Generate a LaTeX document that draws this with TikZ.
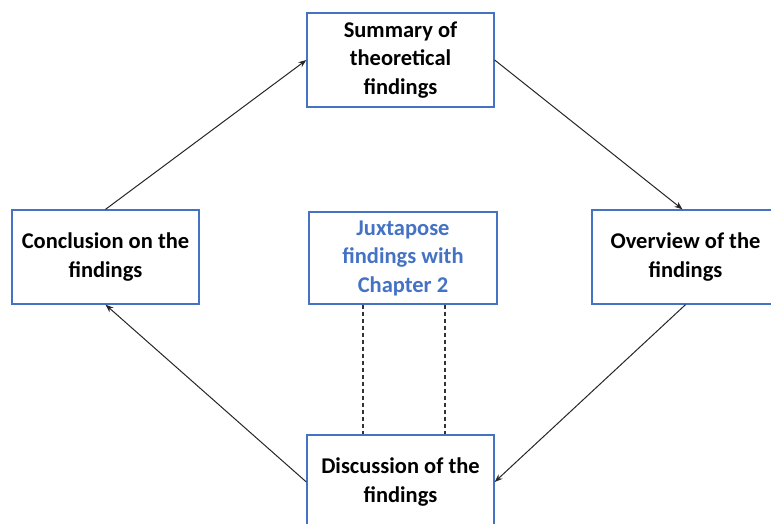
\documentclass[tikz,border=0pt]{standalone}
\usepackage{fontspec}
\setmainfont{Carlito}
\usepackage{xcolor}
\usetikzlibrary{arrows.meta, positioning, calc}

\definecolor{boxblue}{HTML}{4472C4}

\begin{document}
\begin{tikzpicture}[
    x=1pt, y=-1pt,
    every node/.style={font=\bfseries\fontsize{22.5}{28.5}\selectfont},
    box/.style={
        draw=boxblue, line width=1.3pt, align=center,
        minimum width=187pt, minimum height=94pt, inner sep=4pt, fill=white
    },
    arrow/.style={
        -{Stealth[length=8pt, width=6pt]}, line width=1pt, draw=black!85
    },
    linkline/.style={
        dashed, dash pattern=on 4pt off 3pt, line width=1.3pt, draw=black!80
    }
]
\clip (0,0) rectangle (771,523);
\fill[white] (0,0) rectangle (771,523);

% Boxes
\node[box] (summary) at (400.5, 60) {Summary of\\theoretical\\findings};
\node[box] (conclusion) at (105.5, 257) {Conclusion on the\\findings};
\node[box, text=boxblue, minimum width=188pt, minimum height=92pt] (juxtapose) at (403, 258) {Juxtapose\\findings with\\Chapter 2};
\node[box] (overview) at (685.5, 257) {Overview of the\\findings};
\node[box] (discussion) at (400.5, 482) {Discussion of the\\findings};

% Cycle
\draw[arrow] (conclusion.north) -- (summary.west);
\draw[arrow] (summary.east) -- ([xshift=-3pt]overview.north);
\draw[arrow] (overview.south) -- (discussion.east);
\draw[arrow] (discussion.west) -- (conclusion.south);

% Link to Chapter 2
\draw[linkline] ([xshift=-40pt]juxtapose.south) -- ([xshift=-40pt]juxtapose.south |- discussion.north);
\draw[linkline] ([xshift=42pt]juxtapose.south) -- ([xshift=42pt]juxtapose.south |- discussion.north);

\end{tikzpicture}
\end{document}
